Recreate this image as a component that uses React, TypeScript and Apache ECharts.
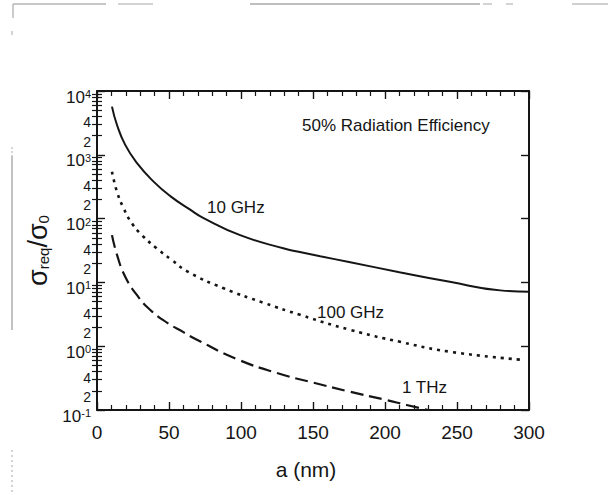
import React, { useEffect, useRef } from "react";
import * as echarts from "echarts";

const FONT = '"Liberation Sans", Arial, Helvetica, sans-serif';
const INK = "#151515";

// Axis ranges / ticks
const xMin = 0;
const xMax = 300;
const xInterval = 50;
const yMin = 0.1;
const yMax = 10000;
const yDecadeTicks = [0.1, 1, 10, 100, 1000, 10000];
const yMinorTicks = [
  0.2, 0.3, 0.4, 0.5, 0.6, 0.7, 0.8, 0.9,
  2, 3, 4, 5, 6, 7, 8, 9,
  20, 30, 40, 50, 60, 70, 80, 90,
  200, 300, 400, 500, 600, 700, 800, 900,
  2000, 3000, 4000, 5000, 6000, 7000, 8000, 9000,
];
const yLabelValues = [
  0.1, 0.2, 0.4, 1, 2, 4, 10, 20, 40, 100, 200, 400, 1000, 2000, 4000, 10000,
];

// 10 GHz (solid)
const a10GHz = [10.4, 13.9, 19.6, 27.8, 39.3, 50.9, 64.7, 74, 99.4, 130, 140, 155, 175, 210, 245, 280, 300];
const s10GHz = [5700, 2930, 1430, 740, 380, 225, 138, 102, 55, 33.9, 30.2, 25.7, 20.9, 14.45, 10.2, 7.5, 7.16];

// 100 GHz (dotted)
const a100GHz = [10.4, 13.9, 18.5, 24.3, 31.2, 41.6, 52, 63.6, 87.9, 115.6, 141, 175.8, 210.5, 245, 296];
const s100GHz = [543, 263, 145, 84, 55, 34, 22.4, 14.5, 8.1, 4.8, 3.1, 1.8, 1.17, 0.82, 0.61];

// 1 THz (dashed)
const a1THz = [10.4, 13.9, 19.6, 27.8, 37, 48.6, 60, 69.4, 97, 125, 150, 175, 200, 215, 230];
const s1THz = [55, 27, 12.3, 6.3, 3.7, 2.34, 1.66, 1.26, 0.63, 0.38, 0.269, 0.195, 0.145, 0.12, 0.1];

const zip = (xs: number[], ys: number[]) => xs.map((x, i) => [x, ys[i]]);

function yLabelFormatter(value: number) {
  const e = Math.floor(Math.log10(value) + 1e-9);
  const m = Math.round(value / Math.pow(10, e));
  if (m === 1) return "{b|10}{sup|" + e + "}";
  return String(m);
}

export default function App() {
  const ref = useRef<HTMLDivElement>(null);

  useEffect(() => {
    const chart = echarts.init(ref.current!, null, { renderer: "svg" });

    const axisLineStyle = { color: INK, width: 2 };
    const tickLineStyle = { color: INK, width: 1.4 };

    const logHidden = (position: string) => ({
      type: "log",
      logBase: 10,
      min: yMin,
      max: yMax,
      position,
      splitLine: { show: false },
      axisLabel: { show: false },
      axisLine: { show: false },
      axisTick: { show: false },
    });

    const xBase = (position: string, showLabel: boolean) => ({
      type: "value",
      min: xMin,
      max: xMax,
      interval: xInterval,
      position,
      axisLine: { show: true, onZero: false, lineStyle: axisLineStyle },
      axisTick: { show: true, inside: true, length: 8, lineStyle: tickLineStyle },
      minorTick: { show: true, splitNumber: 5, length: 5, lineStyle: { color: INK, width: 1.2 } },
      axisLabel: {
        show: showLabel,
        margin: 13,
        fontSize: 19,
        color: INK,
        fontFamily: FONT,
      },
      splitLine: { show: false },
      minorSplitLine: { show: false },
    });

    const lineSeries = (name: string, xs: number[], ys: number[], lineStyle: any) => ({
      name,
      type: "line",
      xAxisIndex: 0,
      yAxisIndex: 0,
      data: zip(xs, ys),
      showSymbol: false,
      symbol: "none",
      smooth: 0.5,
      clip: true,
      lineStyle,
    });

    const label = (text: string, x: number, y: number) => ({
      type: "text",
      x,
      y,
      style: { text, fontSize: 17, fontFamily: FONT, fill: INK, align: "left", verticalAlign: "middle" },
    });

    const scan = (x1: number, y1: number, x2: number, y2: number, stroke: string, lineDash?: number[]) => ({
      type: "line",
      silent: true,
      shape: { x1, y1, x2, y2 },
      style: { stroke, lineWidth: 1.4, lineDash },
    });

    const option: any = {
      animation: false,
      backgroundColor: "#ffffff",
      grid: { left: 97, right: 79, top: 91, bottom: 85, containLabel: false },
      xAxis: [
        {
          ...xBase("bottom", true),
          name: "a (nm)",
          nameLocation: "middle",
          nameGap: 49,
          nameTextStyle: { fontSize: 21, color: INK, fontFamily: FONT, padding: [0, 14, 0, 0] },
        },
        xBase("top", false),
      ],
      yAxis: [
        {
          type: "log",
          logBase: 10,
          min: yMin,
          max: yMax,
          position: "left",
          axisLine: { show: true, onZero: false, lineStyle: axisLineStyle },
          axisTick: {
            show: true,
            inside: true,
            length: 8,
            customValues: yDecadeTicks,
            lineStyle: tickLineStyle,
          },
          minorTick: { show: false },
          axisLabel: {
            show: true,
            customValues: yLabelValues,
            formatter: yLabelFormatter,
            margin: 6,
            fontSize: 14,
            color: INK,
            fontFamily: FONT,
            padding: [12, 0, 0, 0],
            rich: {
              b: {
                fontSize: 17,
                color: INK,
                fontFamily: FONT,
                verticalAlign: "bottom",
                lineHeight: 17,
                padding: [2, 0, 0, 0],
              },
              sup: {
                fontSize: 11,
                color: INK,
                fontFamily: FONT,
                verticalAlign: "top",
                lineHeight: 11,
                padding: [0, 0, 5, 0],
              },
            },
          },
          splitLine: { show: false },
          name: "{s|σ}{sub|req}{s|/σ}{sub|0}",
          nameLocation: "middle",
          nameRotate: 90,
          nameGap: 45,
          nameTextStyle: {
            color: INK,
            fontFamily: FONT,
            rich: {
              s: { fontSize: 27, lineHeight: 27, color: INK, fontFamily: FONT, verticalAlign: "top" },
              sub: {
                fontSize: 15,
                lineHeight: 15,
                color: INK,
                fontFamily: FONT,
                verticalAlign: "bottom",
                padding: [16, 0, 0, 0],
              },
            },
          },
        },
        {
          ...logHidden("left"),
          axisTick: {
            show: true,
            inside: true,
            length: 5,
            customValues: yMinorTicks,
            lineStyle: { color: INK, width: 1.2 },
          },
        },
        {
          ...logHidden("right"),
          axisLine: { show: true, onZero: false, lineStyle: axisLineStyle },
          axisTick: {
            show: true,
            inside: true,
            length: 8,
            customValues: yDecadeTicks,
            lineStyle: tickLineStyle,
          },
        },
        {
          ...logHidden("right"),
          axisTick: {
            show: true,
            inside: true,
            length: 5,
            customValues: yMinorTicks,
            lineStyle: { color: INK, width: 1.2 },
          },
        },
      ],
      series: [
        lineSeries("10 GHz", a10GHz, s10GHz, { color: INK, width: 2 }),
        lineSeries("100 GHz", a100GHz, s100GHz, { color: INK, width: 2.6, type: [3, 5], cap: "butt" }),
        lineSeries("1 THz", a1THz, s1THz, { color: INK, width: 2.2, type: [13, 6], cap: "butt" }),
      ],
      graphic: [
        label("50% Radiation Efficiency", 302, 125),
        label("10 GHz", 207, 207),
        label("100 GHz", 317, 312),
        label("1 THz", 402, 387),
        // faint scan artefacts around the figure
        scan(13, 4, 106, 4, "#b5b5b5"),
        scan(118, 4, 153, 4, "#c5c5c5"),
        scan(250, 4, 480, 4, "#a8a8a8"),
        scan(483, 4, 492, 4, "#c0c0c0"),
        scan(506, 4, 513, 4, "#c0c0c0"),
        scan(572, 4, 608, 4, "#c0c0c0"),
        scan(13, 4, 13, 18, "#b5b5b5"),
        scan(12, 31, 12, 35, "#c0c0c0"),
        scan(12, 147, 12, 156, "#c5c5c5", [2, 2]),
        scan(12, 156, 12, 330, "#a8a8a8"),
        scan(12, 450, 12, 495, "#c0c0c0", [2, 3]),
      ],
    };

    chart.setOption(option);
    return () => {
      chart.dispose();
    };
  }, []);

  return (
    <div
      ref={ref}
      style={{ position: "fixed", left: 0, top: 0, width: 608, height: 495, background: "#ffffff" }}
    />
  );
}
